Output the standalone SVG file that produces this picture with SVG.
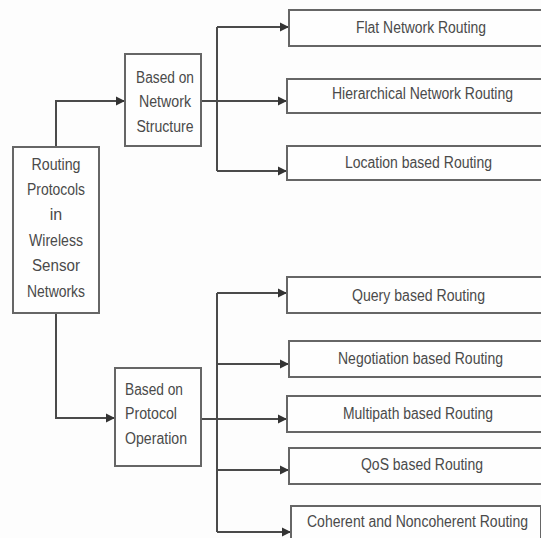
<svg xmlns="http://www.w3.org/2000/svg" width="541" height="538" viewBox="0 0 541 538">
<defs>
<marker id="arr" markerWidth="10" markerHeight="10" refX="9" refY="5" orient="auto" markerUnits="userSpaceOnUse">
<path d="M0,0.5 L9,5 L0,9.5 Z" fill="#333"/>
</marker>
<style>
.box{fill:#fefefe;stroke:#666;stroke-width:2}
.t{font-family:"Liberation Sans",Arial,sans-serif;font-size:16px;fill:#4a4a4a}
.c{text-anchor:middle}
.ln{fill:none;stroke:#4a4a4a;stroke-width:2}
.ar{marker-end:url(#arr)}
</style>
</defs>
<rect width="541" height="538" fill="#fdfdfd"/>
<g id="connectors">
<path class="ln ar" d="M56,147 V101 H125"/>
<path class="ln ar" d="M56,313 V418 H115"/>
<path class="ln ar" d="M201,101 H287"/>
<path class="ln" d="M217,27 V171"/>
<path class="ln ar" d="M217,27 H289"/>
<path class="ln ar" d="M217,171 H287"/>
<path class="ln ar" d="M201,419 H287"/>
<path class="ln" d="M217,293 V532"/>
<path class="ln ar" d="M217,293 H287"/>
<path class="ln ar" d="M217,364 H289"/>
<path class="ln ar" d="M217,470 H289"/>
<path class="ln ar" d="M217,532 H291"/>
</g>
<g id="root">
<rect class="box" x="13" y="147" width="86" height="166"/>
<text class="t c" x="56" y="170" textLength="49" lengthAdjust="spacingAndGlyphs">Routing</text>
<text class="t c" x="56" y="195" textLength="58" lengthAdjust="spacingAndGlyphs">Protocols</text>
<text class="t c" x="56" y="220">in</text>
<text class="t c" x="56" y="246" textLength="54" lengthAdjust="spacingAndGlyphs">Wireless</text>
<text class="t c" x="56" y="271" textLength="48" lengthAdjust="spacingAndGlyphs">Sensor</text>
<text class="t c" x="56" y="297" textLength="58" lengthAdjust="spacingAndGlyphs">Networks</text>
</g>
<g id="network-structure">
<rect class="box" x="125" y="54" width="76" height="92"/>
<text class="t c" x="165" y="83" textLength="58" lengthAdjust="spacingAndGlyphs">Based on</text>
<text class="t c" x="165" y="107" textLength="52" lengthAdjust="spacingAndGlyphs">Network</text>
<text class="t c" x="165" y="132" textLength="57" lengthAdjust="spacingAndGlyphs">Structure</text>
</g>
<g id="protocol-operation">
<rect class="box" x="115" y="368" width="86" height="98"/>
<text class="t" x="125" y="395" textLength="58" lengthAdjust="spacingAndGlyphs">Based on</text>
<text class="t" x="125" y="419" textLength="52" lengthAdjust="spacingAndGlyphs">Protocol</text>
<text class="t" x="125" y="444" textLength="62" lengthAdjust="spacingAndGlyphs">Operation</text>
</g>
<g id="flat">
<rect class="box" x="289" y="10" width="260" height="36"/>
<text class="t" x="356" y="33" textLength="130" lengthAdjust="spacingAndGlyphs">Flat Network Routing</text>
</g>
<g id="hierarchical">
<rect class="box" x="287" y="79" width="262" height="34"/>
<text class="t" x="332" y="99" textLength="181" lengthAdjust="spacingAndGlyphs">Hierarchical Network Routing</text>
</g>
<g id="location">
<rect class="box" x="287" y="146" width="262" height="34"/>
<text class="t" x="345" y="168" textLength="147" lengthAdjust="spacingAndGlyphs">Location based Routing</text>
</g>
<g id="query">
<rect class="box" x="287" y="277" width="262" height="36"/>
<text class="t" x="352" y="301" textLength="133" lengthAdjust="spacingAndGlyphs">Query based Routing</text>
</g>
<g id="negotiation">
<rect class="box" x="289" y="341" width="260" height="36"/>
<text class="t" x="338" y="364" textLength="165" lengthAdjust="spacingAndGlyphs">Negotiation based Routing</text>
</g>
<g id="multipath">
<rect class="box" x="287" y="396" width="262" height="36"/>
<text class="t" x="343" y="419" textLength="150" lengthAdjust="spacingAndGlyphs">Multipath based Routing</text>
</g>
<g id="qos">
<rect class="box" x="289" y="448" width="260" height="36"/>
<text class="t" x="361" y="470" textLength="122" lengthAdjust="spacingAndGlyphs">QoS based Routing</text>
</g>
<g id="coherent">
<path class="box" d="M291,538 V506 H541 V538"/>
<text class="t" x="307" y="527" textLength="221" lengthAdjust="spacingAndGlyphs">Coherent and Noncoherent Routing</text>
</g>
</svg>
